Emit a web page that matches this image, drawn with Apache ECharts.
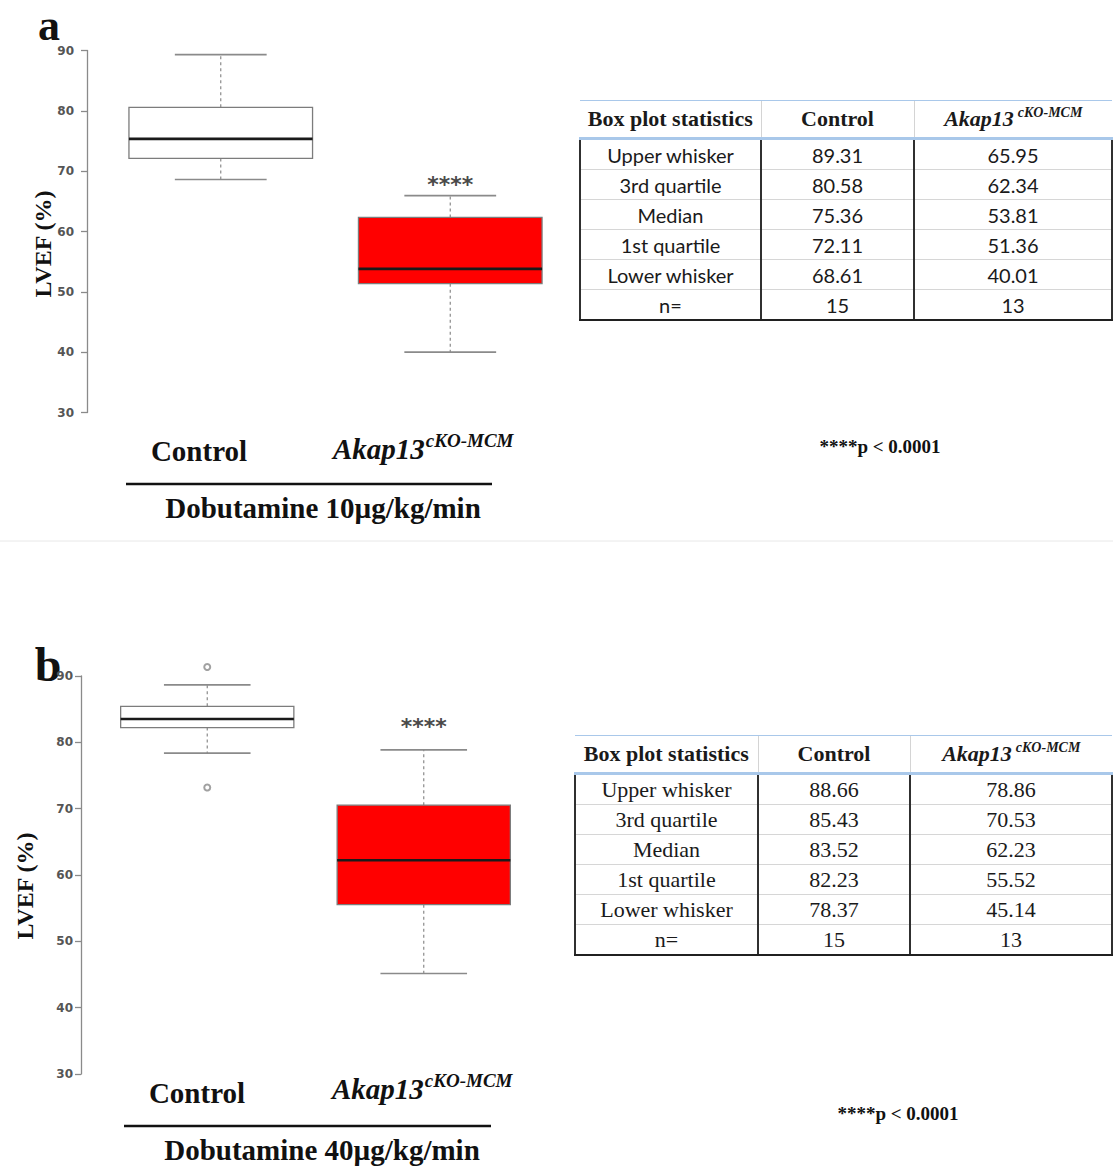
<!DOCTYPE html>
<html>
<head>
<meta charset="utf-8">
<title>LVEF under dobutamine stress</title>
<script src="https://cdn.jsdelivr.net/npm/echarts@6.0.0/dist/echarts.min.js"></script>
<style>
  html, body { margin: 0; padding: 0; background: #ffffff; }
  #page { position: relative; width: 1113px; height: 1167px; overflow: hidden; }
  #chart { position: absolute; left: 0; top: 0; width: 1113px; height: 1167px; }
  .stats { position: absolute; border-collapse: collapse; table-layout: fixed; color: #1a1a1a; z-index: 2; }
  .stats th { height: 36px; padding: 0; text-align: center; font: bold 22px "Liberation Serif", "Times New Roman", serif;
              border-top: 1px solid #a9c8ea; border-bottom: 3px solid #a9c8ea; border-left: 1px solid #d4d4d4; }
  .stats th:first-child { border-left: none; }
  .stats th i { font-style: italic; }
  .stats th sup { font-size: 14px; font-style: italic; vertical-align: 9px; margin-left: 4px; line-height: 0; }
  .stats td { height: 29px; padding: 0; text-align: center; border-top: 1px solid #d6d6d6; border-left: 2px solid #303030; }
  .stats td:last-child { border-right: 2px solid #303030; }
  .stats tr:last-child td { border-bottom: 2px solid #202020; }
  #tblA { left: 579px; top: 100px; width: 534px; }
  #tblA td { font: 20px "Lato", "Noto Sans", sans-serif; }
  #tblB { left: 574px; top: 735px; width: 539px; }
  #tblB td { font: 22px "Liberation Serif", "Times New Roman", serif; }
</style>
</head>
<body>
<div id="page">
  <div id="chart"></div>
  <table id="tblA" class="stats"><colgroup><col style="width:181px"><col style="width:153px"><col></colgroup><tbody></tbody></table>
  <table id="tblB" class="stats"><colgroup><col style="width:183px"><col style="width:152px"><col></colgroup><tbody></tbody></table>
</div>
<script>
// ---- groups ----
const groups = ['Control', 'Akap13 cKO-MCM'];
const significance = ['', '****'];

// ---- Dobutamine 10 µg/kg/min (LVEF, %) ----
const upperA  = [89.31, 65.95];
const q3A     = [80.58, 62.34];
const medianA = [75.36, 53.81];
const q1A     = [72.11, 51.36];
const lowerA  = [68.61, 40.01];
const nA      = [15, 13];

// ---- Dobutamine 40 µg/kg/min (LVEF, %) ----
const upperB  = [88.66, 78.86];
const q3B     = [85.43, 70.53];
const medianB = [83.52, 62.23];
const q1B     = [82.23, 55.52];
const lowerB  = [78.37, 45.14];
const nB      = [15, 13];
// Control points lying beyond the whiskers
const outliersB = [[0, 91.35], [0, 73.2]];

// ---- axis and table labels ----
const yMin = 30, yMax = 90, yStep = 10;
const statNames = ['Upper whisker', '3rd quartile', 'Median', '1st quartile', 'Lower whisker', 'n='];
const treatmentA = 'Dobutamine 10µg/kg/min';
const treatmentB = 'Dobutamine 40µg/kg/min';
const pNote = '****p < 0.0001';
const yTitle = 'LVEF (%)';

const SERIF = '"Liberation Serif", "Times New Roman", serif';
const boxFills = ['#ffffff', '#ff0000'];
const GREY = '#8a8a8a';

function boxRows(lower, q1, med, q3, upper) {
  return groups.map((g, i) => [i, lower[i], q1[i], med[i], q3[i], upper[i]]);
}

// R-style box: dashed whiskers, half-width staples, heavy median
function boxRenderer(sigGap) {
  return function (params, api) {
    const i = api.value(0);
    const bw = api.size([1, 0])[0] * 0.8;
    const lo = api.coord([i, api.value(1)]);
    const q1 = api.coord([i, api.value(2)]);
    const md = api.coord([i, api.value(3)]);
    const q3 = api.coord([i, api.value(4)]);
    const hi = api.coord([i, api.value(5)]);
    const cx = md[0];
    const dashed = { stroke: GREY, lineWidth: 1.2, lineDash: [3, 3] };
    const solid = { stroke: GREY, lineWidth: 1.6 };
    const children = [
      { type: 'line', shape: { x1: cx, y1: q3[1], x2: cx, y2: hi[1] }, style: dashed },
      { type: 'line', shape: { x1: cx, y1: q1[1], x2: cx, y2: lo[1] }, style: dashed },
      { type: 'line', shape: { x1: cx - bw / 4, y1: hi[1], x2: cx + bw / 4, y2: hi[1] }, style: solid },
      { type: 'line', shape: { x1: cx - bw / 4, y1: lo[1], x2: cx + bw / 4, y2: lo[1] }, style: solid },
      { type: 'rect', shape: { x: cx - bw / 2, y: q3[1], width: bw, height: q1[1] - q3[1] },
        style: { fill: boxFills[i], stroke: '#7c7c7c', lineWidth: 1.3 } },
      { type: 'line', shape: { x1: cx - bw / 2, y1: md[1], x2: cx + bw / 2, y2: md[1] },
        style: { stroke: '#1a1a1a', lineWidth: 2.6 } }
    ];
    if (significance[i]) {
      children.push({ type: 'text', style: {
        text: significance[i], x: cx, y: hi[1] - sigGap, align: 'center', verticalAlign: 'middle',
        fontFamily: '"DejaVu Sans", sans-serif', fontWeight: 'bold', fontSize: 22, fill: '#4a4a4a' } });
    }
    return { type: 'group', children: children };
  };
}

function yAxisFor(gridIndex, offset, margin) {
  return {
    type: 'value', gridIndex: gridIndex, min: yMin, max: yMax, interval: yStep, offset: offset,
    splitLine: { show: false },
    axisLine: { show: true, lineStyle: { color: GREY, width: 1.3 } },
    axisTick: { show: true, length: 6, lineStyle: { color: GREY, width: 1.3 } },
    axisLabel: { margin: margin, color: '#555', fontFamily: '"DejaVu Sans", sans-serif', fontWeight: 'bold', fontSize: 12 }
  };
}

function txt(text, x, y, size, extra) {
  return Object.assign({ type: 'text', silent: true, style: Object.assign({
    text: text, x: x, y: y, align: 'center', verticalAlign: 'middle',
    fontFamily: SERIF, fontWeight: 'bold', fontSize: size, fill: '#111' }, extra || {}) });
}

function akapLabel(x, y) {
  return { type: 'text', silent: true, style: {
    text: '{i|Akap13}{s|cKO-MCM}', x: x, y: y, align: 'left', verticalAlign: 'middle', fill: '#111',
    rich: {
      i: { fontFamily: SERIF, fontStyle: 'italic', fontWeight: 'bold', fontSize: 29, lineHeight: 36 },
      s: { fontFamily: SERIF, fontStyle: 'italic', fontWeight: 'bold', fontSize: 19, verticalAlign: 'top', padding: [0, 0, 0, 1] }
    } } };
}

function rotTitle(x, y) {
  return { type: 'text', silent: true, x: x, y: y, rotation: Math.PI / 2, style: {
    text: yTitle, x: 0, y: 0, align: 'center', verticalAlign: 'middle',
    fontFamily: SERIF, fontWeight: 'bold', fontSize: 24, fill: '#111' } };
}

const chart = echarts.init(document.getElementById('chart'), null, { renderer: 'svg' });
chart.setOption({
  animation: false,
  backgroundColor: '#ffffff',
  grid: [
    { left: 106, top: 50.5, width: 459, height: 362 },
    { left: 99, top: 676, width: 433, height: 398 }
  ],
  xAxis: [
    { type: 'category', gridIndex: 0, data: groups, show: false },
    { type: 'category', gridIndex: 1, data: groups, show: false }
  ],
  yAxis: [ yAxisFor(0, 19, 13), yAxisFor(1, 18, 8) ],
  series: [
    { type: 'custom', xAxisIndex: 0, yAxisIndex: 0, renderItem: boxRenderer(11), clip: false,
      data: boxRows(lowerA, q1A, medianA, q3A, upperA), encode: { x: 0, y: [1, 2, 3, 4, 5] }, silent: true },
    { type: 'custom', xAxisIndex: 1, yAxisIndex: 1, renderItem: boxRenderer(23), clip: false,
      data: boxRows(lowerB, q1B, medianB, q3B, upperB), encode: { x: 0, y: [1, 2, 3, 4, 5] }, silent: true },
    { type: 'scatter', xAxisIndex: 1, yAxisIndex: 1, data: outliersB, symbol: 'emptyCircle', symbolSize: 6,
      clip: false, itemStyle: { color: GREY, borderWidth: 1.2 }, silent: true }
  ],
  graphic: [
    { type: 'line', silent: true, shape: { x1: 0, y1: 541, x2: 1113, y2: 541 }, style: { stroke: '#e8e8e8', lineWidth: 1 } },
    txt('a', 49, 25, 44),
    txt('b', 48, 664, 48),
    rotTitle(43, 244),
    rotTitle(25, 886),
    txt('Control', 199, 451, 29),
    akapLabel(333, 449),
    { type: 'line', silent: true, shape: { x1: 126, y1: 484, x2: 492, y2: 484 }, style: { stroke: '#111', lineWidth: 2.5 } },
    txt(treatmentA, 323, 508, 29),
    txt(pNote, 880, 446, 19),
    txt('Control', 197, 1093, 29),
    akapLabel(332, 1089),
    { type: 'line', silent: true, shape: { x1: 124, y1: 1126, x2: 491, y2: 1126 }, style: { stroke: '#111', lineWidth: 2.5 } },
    txt(treatmentB, 322, 1150, 29),
    txt(pNote, 898, 1113, 19)
  ]
});

// Summary tables built from the same statistics
function buildTable(id, upper, q3, med, q1, lower, n) {
  const cols = [upper, q3, med, q1, lower];
  let html = '<tr><th>Box plot statistics</th><th>' + groups[0] + '</th><th><i>Akap13</i><sup>cKO-MCM</sup></th></tr>';
  statNames.forEach(function (name, r) {
    const vals = r < cols.length ? cols[r].map(function (v) { return v.toFixed(2); }) : n.map(String);
    html += '<tr><td>' + name + '</td><td>' + vals[0] + '</td><td>' + vals[1] + '</td></tr>';
  });
  document.querySelector('#' + id + ' tbody').innerHTML = html;
}
buildTable('tblA', upperA, q3A, medianA, q1A, lowerA, nA);
buildTable('tblB', upperB, q3B, medianB, q1B, lowerB, nB);
</script>
</body>
</html>
